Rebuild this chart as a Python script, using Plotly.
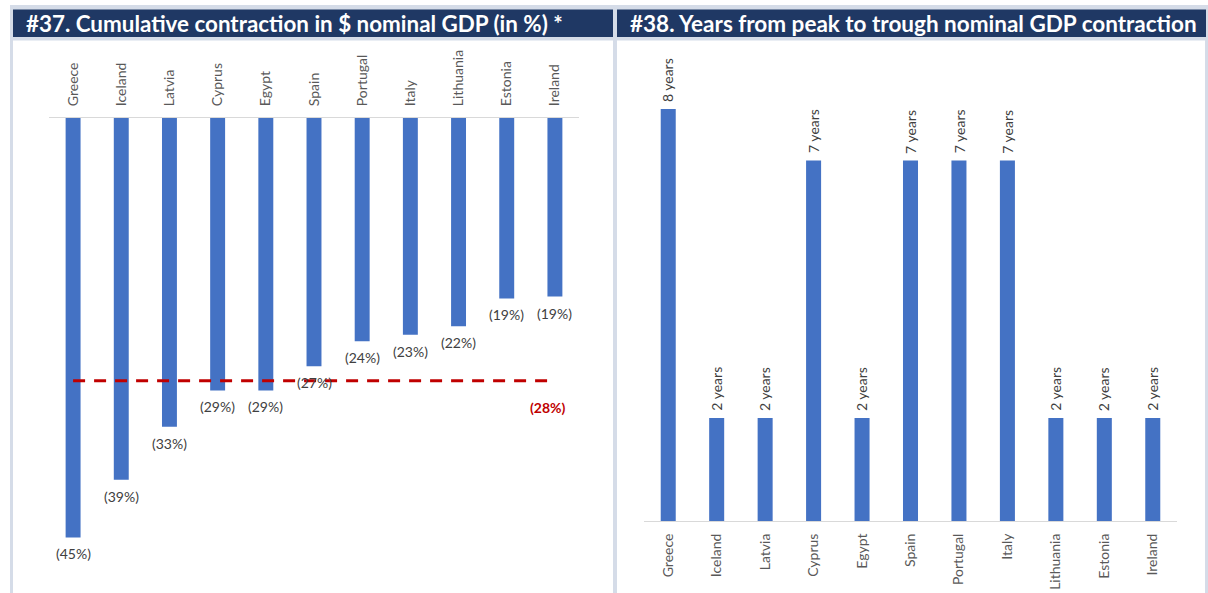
import plotly.graph_objects as go

# ---- data ----
countries = ["Greece", "Iceland", "Latvia", "Cyprus", "Egypt", "Spain",
             "Portugal", "Italy", "Lithuania", "Estonia", "Ireland"]
contraction_pct = [-45.1, -38.9, -33.2, -29.3, -29.3, -26.7,
                   -24.0, -23.3, -22.4, -19.4, -19.2]
years_peak_to_trough = [8, 2, 2, 7, 2, 7, 7, 7, 2, 2, 2]

title_left = "#37. Cumulative contraction in $ nominal GDP (in %) *"
title_right = "#38. Years from peak to trough nominal GDP contraction"

W, H = 1208, 593
BAR = "#4472C4"
NAVY = "#1F3864"
FRAME = "#D5DCE8"
AXIS = "#D9D9D9"
LABEL = "#404040"
TICK = "#595959"
RED = "#C00000"
FONT = "Lato"


def px_x(x):
    return x / W


def px_y(y):
    return 1 - y / H


avg = sum(contraction_pct) / len(contraction_pct)
pct_text = [f"({abs(v):.0f}%)" for v in contraction_pct]
year_text = [f"{v} years" for v in years_peak_to_trough]

fig = go.Figure()

# left panel: cumulative contraction bars (hang down from zero)
fig.add_trace(go.Bar(
    x=countries, y=contraction_pct, width=0.31,
    marker=dict(color=BAR, line=dict(width=0)),
    xaxis="x", yaxis="y", showlegend=False,
))

# average contraction line
fig.add_trace(go.Scatter(
    x=[countries[0], countries[-1]], y=[avg, avg], mode="lines",
    line=dict(color=RED, width=3, dash="12px,9px"),
    xaxis="x", yaxis="y", showlegend=False, cliponaxis=False,
))

# right panel: years from peak to trough
fig.add_trace(go.Bar(
    x=countries, y=years_peak_to_trough, width=0.31,
    marker=dict(color=BAR, line=dict(width=0)),
    xaxis="x2", yaxis="y2", showlegend=False,
))

# frame, title bars and white panels
shapes = [
    dict(type="rect", xref="paper", yref="paper",
         x0=px_x(10), x1=px_x(1208), y0=px_y(593), y1=px_y(5),
         fillcolor=FRAME, line=dict(width=0), layer="below"),
    dict(type="rect", xref="paper", yref="paper",
         x0=px_x(13), x1=px_x(613), y0=px_y(37), y1=px_y(9.5),
         fillcolor=NAVY, line=dict(width=0), layer="below"),
    dict(type="rect", xref="paper", yref="paper",
         x0=px_x(617), x1=px_x(1206), y0=px_y(37), y1=px_y(9.5),
         fillcolor=NAVY, line=dict(width=0), layer="below"),
    dict(type="rect", xref="paper", yref="paper",
         x0=px_x(13), x1=px_x(613), y0=px_y(593), y1=px_y(40.5),
         fillcolor="white", line=dict(width=0), layer="below"),
    dict(type="rect", xref="paper", yref="paper",
         x0=px_x(617), x1=px_x(1205), y0=px_y(593), y1=px_y(40.5),
         fillcolor="white", line=dict(width=0), layer="below"),
]

annotations = [
    dict(text=f"<b>{title_left}</b>", xref="paper", yref="paper",
         x=px_x(24), y=px_y(24), xanchor="left", yanchor="middle",
         showarrow=False, font=dict(family=FONT, size=22.4, color="white")),
    dict(text=f"<b>{title_right}</b>", xref="paper", yref="paper",
         x=px_x(628), y=px_y(24), xanchor="left", yanchor="middle",
         showarrow=False, font=dict(family=FONT, size=22.5, color="white")),
    dict(text=f"<b>({abs(avg):.0f}%)</b>", xref="x", yref="y",
         x=countries[-1], y=avg, xshift=-7, yshift=-27,
         showarrow=False, font=dict(family=FONT, size=14, color=RED)),
]

# value labels under each contraction bar
for c, v, t in zip(countries, contraction_pct, pct_text):
    annotations.append(dict(
        text=t, xref="x", yref="y", x=c, y=v, yanchor="top", yshift=-6,
        showarrow=False, font=dict(family=FONT, size=14, color=LABEL)))

# rotated value labels above each duration bar
for c, v, t in zip(countries, years_peak_to_trough, year_text):
    annotations.append(dict(
        text=t, xref="x2", yref="y2", x=c, y=v, textangle=-90,
        yanchor="bottom", yshift=5,
        showarrow=False, font=dict(family=FONT, size=14, color=LABEL)))

fig.update_layout(
    width=W, height=H,
    margin=dict(l=0, r=0, t=0, b=0),
    paper_bgcolor="white", plot_bgcolor="rgba(0,0,0,0)",
    shapes=shapes, annotations=annotations,
    xaxis=dict(domain=[px_x(49), px_x(579)], side="top", anchor="y",
               tickangle=-90, showline=True, linecolor=AXIS, linewidth=1,
               ticks="", showgrid=False, zeroline=False,
               ticklabelstandoff=8,
               tickfont=dict(family=FONT, size=14, color=TICK)),
    yaxis=dict(domain=[px_y(583), px_y(118)], range=[-50, 0],
               showticklabels=False, showgrid=False, zeroline=False,
               showline=False, anchor="x"),
    xaxis2=dict(domain=[px_x(644), px_x(1177)], side="bottom", anchor="y2",
                tickangle=-90, showline=True, linecolor=AXIS, linewidth=1,
                ticks="", showgrid=False, zeroline=False,
                ticklabelstandoff=6,
                tickfont=dict(family=FONT, size=14, color=TICK)),
    yaxis2=dict(domain=[px_y(521), px_y(45)], range=[0, 9.24],
                showticklabels=False, showgrid=False, zeroline=False,
                showline=False, anchor="x2"),
)

fig.write_html("out.html")
